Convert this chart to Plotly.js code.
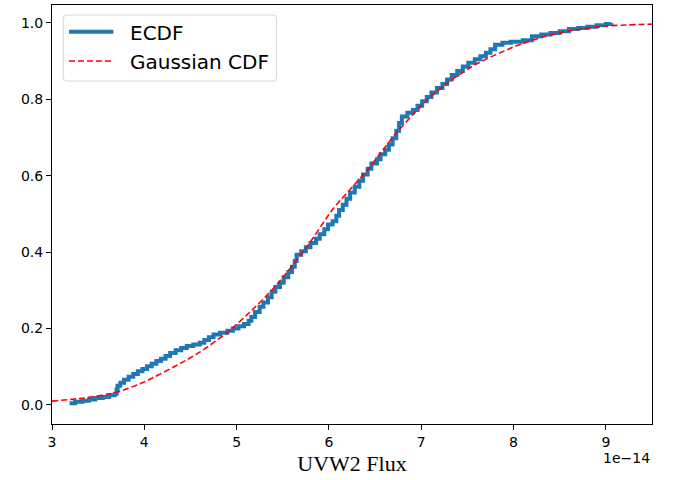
<!DOCTYPE html>
<html>
<head>
<meta charset="utf-8">
<script src="https://cdn.plot.ly/plotly-3.0.1.min.js"></script>
<style>html,body{margin:0;padding:0;background:#fff;}#chart{width:673px;height:480px;}</style>
</head>
<body>
<div id="chart"></div>
<script>
// Flux values in units of 1e-14
const ecdfX = [3.19,3.25,3.33,3.40,3.47,3.55,3.62,3.68,3.70,3.71,3.74,3.78,3.83,3.88,3.93,3.98,4.03,4.08,4.13,4.18,4.23,4.28,4.34,4.40,4.46,4.53,4.60,4.65,4.70,4.75,4.82,4.90,4.96,5.02,5.08,5.13,5.16,5.20,5.25,5.29,5.34,5.38,5.42,5.47,5.51,5.56,5.60,5.63,5.65,5.70,5.75,5.80,5.86,5.90,5.95,5.99,6.04,6.08,6.11,6.15,6.19,6.23,6.28,6.33,6.37,6.42,6.46,6.52,6.56,6.61,6.65,6.69,6.73,6.76,6.79,6.85,6.91,6.96,7.01,7.06,7.11,7.17,7.23,7.28,7.33,7.39,7.45,7.51,7.58,7.64,7.70,7.75,7.80,7.88,7.97,8.10,8.20,8.30,8.40,8.50,8.60,8.70,8.80,8.90,9.00,9.06];
const ecdfY = [0.004,0.008,0.011,0.014,0.018,0.021,0.025,0.029,0.040,0.050,0.058,0.066,0.074,0.081,0.088,0.094,0.101,0.108,0.115,0.121,0.128,0.136,0.143,0.149,0.154,0.158,0.163,0.170,0.177,0.184,0.189,0.194,0.200,0.206,0.212,0.220,0.230,0.243,0.257,0.268,0.282,0.296,0.309,0.320,0.334,0.348,0.362,0.377,0.393,0.402,0.413,0.424,0.435,0.447,0.460,0.472,0.481,0.495,0.510,0.524,0.540,0.556,0.571,0.587,0.603,0.618,0.632,0.643,0.656,0.668,0.682,0.698,0.718,0.738,0.755,0.765,0.772,0.783,0.795,0.806,0.818,0.830,0.840,0.852,0.864,0.874,0.886,0.896,0.905,0.913,0.922,0.931,0.943,0.948,0.951,0.955,0.965,0.970,0.974,0.978,0.984,0.987,0.990,0.994,0.997,1.000];

const gaussX = [3.0,3.35,3.7,4.0,4.4,4.6,4.9,5.1,5.4,5.75,6.05,6.4,6.73,7.05,7.3,7.6,8.0,8.3,8.65,9.0,9.5];
const gaussY = [0.010,0.018,0.033,0.060,0.110,0.138,0.190,0.233,0.305,0.410,0.515,0.610,0.712,0.795,0.846,0.893,0.937,0.962,0.981,0.992,0.997];

const xTicks = [3,4,5,6,7,8,9];
const yTicks = [0,0.2,0.4,0.6,0.8,1.0];
const seriesNames = ['ECDF', 'Gaussian CDF'];
const seriesColors = ['#1f77b4', 'red'];

const traces = [
  {x: ecdfX, y: ecdfY, type: 'scatter', mode: 'lines', name: seriesNames[0],
   line: {color: seriesColors[0], width: 4, shape: 'hv'}},
  {x: gaussX, y: gaussY, type: 'scatter', mode: 'lines', name: seriesNames[1],
   line: {color: seriesColors[1], width: 1.6, dash: '6px,3px', shape: 'spline', smoothing: 0.6}}
];

const axisCommon = {
  showgrid: false, zeroline: false, showline: true, mirror: true,
  linecolor: '#000', linewidth: 1, ticks: 'outside', ticklen: 5, tickwidth: 1,
  tickcolor: '#000', tickfont: {family: 'DejaVu Sans', size: 14, color: '#000'}
};

// custom legend geometry (paper fractions)
const bx0 = 0.0188, bx1 = 0.3745, by0 = 0.8186, by1 = 0.9761, rx = 0.006, ry = 0.0086;
const boxPath = `M${bx0+rx},${by1} L${bx1-rx},${by1} Q${bx1},${by1} ${bx1},${by1-ry} L${bx1},${by0+ry} Q${bx1},${by0} ${bx1-rx},${by0} L${bx0+rx},${by0} Q${bx0},${by0} ${bx0},${by0+ry} L${bx0},${by1-ry} Q${bx0},${by1} ${bx0+rx},${by1} Z`;

const layout = {
  width: 673, height: 480,
  margin: {l: 52, r: 21, t: 5, b: 56},
  paper_bgcolor: '#fff', plot_bgcolor: '#fff',
  xaxis: Object.assign({}, axisCommon, {
    range: [3, 9.5], tickvals: xTicks, ticktext: xTicks.map(String),
    title: {text: 'UVW2 Flux', font: {family: 'Liberation Serif', size: 22, color: '#000'}, standoff: 6}
  }),
  yaxis: Object.assign({}, axisCommon, {
    range: [-0.05, 1.047], tickvals: yTicks, ticktext: yTicks.map(v => v.toFixed(1))
  }),
  showlegend: false,
  shapes: [
    {type: 'path', xref: 'paper', yref: 'paper', path: boxPath,
     fillcolor: 'rgba(255,255,255,0.85)', line: {color: '#d6d6d6', width: 1}, layer: 'above'},
    {type: 'line', xref: 'paper', yref: 'paper', x0: 0.0283, x1: 0.1022, y0: 0.9363, y1: 0.9363,
     line: {color: seriesColors[0], width: 4}, layer: 'above'},
    {type: 'line', xref: 'paper', yref: 'paper', x0: 0.0283, x1: 0.1022, y0: 0.8663, y1: 0.8663,
     line: {color: seriesColors[1], width: 1.6, dash: '6px,3px'}, layer: 'above'}
  ],
  annotations: [
    {text: seriesNames[0], xref: 'paper', yref: 'paper', x: 0.1265, y: 0.932,
     xanchor: 'left', yanchor: 'middle', showarrow: false,
     font: {family: 'DejaVu Sans', size: 20, color: '#000'}},
    {text: seriesNames[1], xref: 'paper', yref: 'paper', x: 0.1265, y: 0.8628,
     xanchor: 'left', yanchor: 'middle', showarrow: false,
     font: {family: 'DejaVu Sans', size: 20, color: '#000'}},
    {text: '1e\u221214', xref: 'paper', yref: 'paper', x: 1, y: 0,
     xanchor: 'right', yanchor: 'top', yshift: -24, showarrow: false,
     font: {family: 'DejaVu Sans', size: 14, color: '#000'}}
  ]
};

Plotly.newPlot('chart', traces, layout, {displayModeBar: false, staticPlot: true});
</script>
</body>
</html>
